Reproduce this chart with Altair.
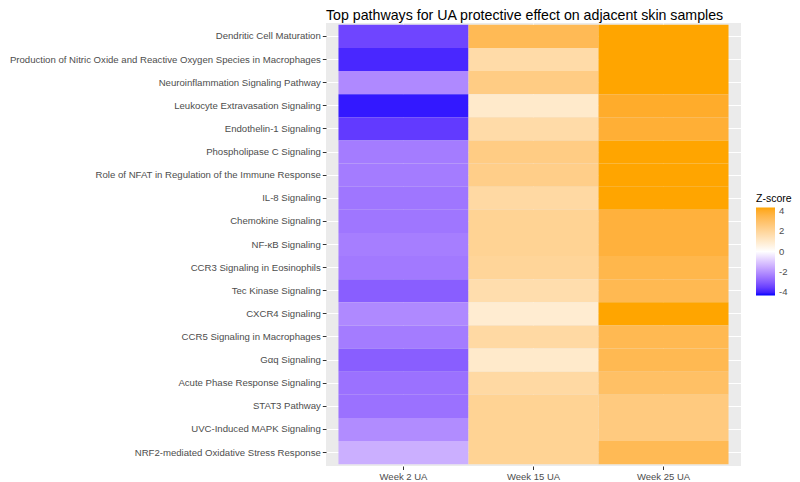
import altair as alt
import pandas as pd

pathways = [
    "Dendritic Cell Maturation",
    "Production of Nitric Oxide and Reactive Oxygen Species in Macrophages",
    "Neuroinflammation Signaling Pathway",
    "Leukocyte Extravasation Signaling",
    "Endothelin-1 Signaling",
    "Phospholipase C Signaling",
    "Role of NFAT in Regulation of the Immune Response",
    "IL-8 Signaling",
    "Chemokine Signaling",
    "NF-κB Signaling",
    "CCR3 Signaling in Eosinophils",
    "Tec Kinase Signaling",
    "CXCR4 Signaling",
    "CCR5 Signaling in Macrophages",
    "Gαq Signaling",
    "Acute Phase Response Signaling",
    "STAT3 Pathway",
    "UVC-Induced MAPK Signaling",
    "NRF2-mediated Oxidative Stress Response",
]
samples = ["Week 2 UA", "Week 15 UA", "Week 25 UA"]

week2 = [-3.4, -3.9, -2.15, -4.1, -3.6, -2.4, -2.4, -2.5, -2.5, -2.35,
         -2.45, -2.95, -2.15, -2.4, -2.95, -2.6, -2.6, -2.1, -1.45]
week15 = [3.3, 1.7, 2.4, 1.0, 1.7, 2.4, 2.3, 1.8, 2.1, 2.1,
          2.0, 1.6, 0.9, 1.8, 1.0, 1.8, 2.1, 2.1, 2.1]
week25 = [4.3, 4.3, 4.3, 3.95, 3.8, 4.3, 4.3, 4.3, 3.7, 3.7,
          3.45, 3.35, 4.3, 3.35, 3.35, 3.0, 2.5, 2.5, 3.3]

rows = []
for s, vals in zip(samples, [week2, week15, week25]):
    for p, v in zip(pathways, vals):
        rows.append({"pathway": p, "sample": s, "z": v})
df = pd.DataFrame(rows)

FONT = "Liberation Sans"

chart = alt.Chart(df).mark_rect().encode(
    x=alt.X("sample:N", sort=samples, title=None,
            scale=alt.Scale(paddingInner=0, paddingOuter=0.096),
            axis=alt.Axis(labelAngle=0, bandPosition=0.5, grid=True,
                          gridColor="white", gridWidth=1.1, domain=False,
                          tickColor="#333333", tickSize=3.5, tickWidth=1,
                          labelColor="#4D4D4D", labelFontSize=9.5,
                          labelFont=FONT, labelPadding=1.5, zindex=0)),
    y=alt.Y("pathway:N", sort=pathways, title=None,
            scale=alt.Scale(paddingInner=0, paddingOuter=0.08),
            axis=alt.Axis(bandPosition=0.5, grid=True, gridColor="white",
                          gridWidth=1.1, domain=False, tickColor="#333333",
                          tickSize=3.7, tickWidth=1, labelColor="#4D4D4D",
                          labelFontSize=9.6, labelFont=FONT, labelPadding=2,
                          labelLimit=0, zindex=0)),
    color=alt.Color("z:Q", title="Z-score",
                    scale=alt.Scale(domain=[-4.3, 0, 4.3],
                                    range=["#0000FF", "#FFFFFF", "#FFA500"],
                                    interpolate="lab"),
                    legend=alt.Legend(orient="none", legendX=430, legendY=171,
                                      values=[-4, -2, 0, 2, 4],
                                      labelExpr="'' + datum.value",
                                      gradientLength=88, gradientThickness=19,
                                      gradientStrokeWidth=0,
                                      titleFont=FONT, titleFontSize=10.5,
                                      titleFontWeight="normal",
                                      titleColor="black", titlePadding=3,
                                      labelFont=FONT, labelFontSize=9.5,
                                      labelColor="#4D4D4D", labelOffset=4,
                                      padding=0)),
).properties(
    width=415,
    height=443,
    title=alt.TitleParams("Top pathways for UA protective effect on adjacent skin samples",
                          anchor="start", frame="group", font=FONT,
                          fontSize=14.2, fontWeight="normal", color="black",
                          offset=0),
    autosize=alt.AutoSizeParams(type="none"),
    padding={"left": 318, "top": 15, "right": 51, "bottom": 16},
).configure_view(
    fill="#EBEBEB", stroke=None
)

chart.save("out.html", embed_options={"renderer": "svg", "actions": False})
